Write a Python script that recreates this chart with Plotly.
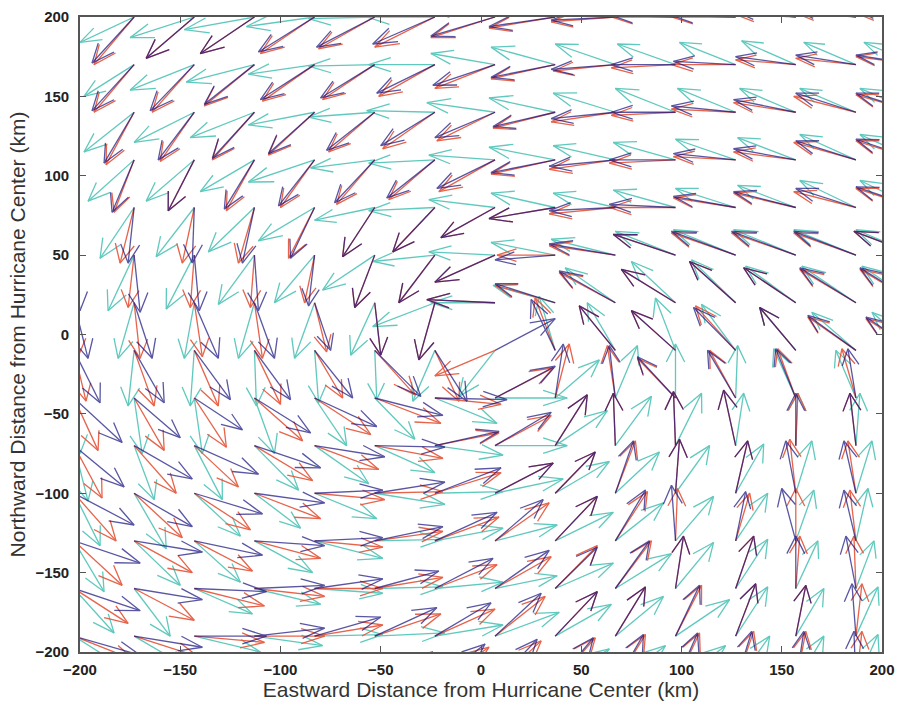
import numpy as np
import plotly.graph_objects as go
import plotly.figure_factory as ff

# Grid of vector origins (km from the hurricane centre)
X_KM = [-203, -173, -143, -113, -83, -53, -23, 7, 37, 67, 97, 127, 157, 187, 217]
Y_KM = [200, 170, 140, 110, 80, 50, 20, -10, -40, -70, -100, -130, -160, -190, -220]

# Field 1 (red): eastward / northward components, one row per Y_KM value
RED_U = [
    [-20, -20, -24, -27, -27, -28, -30, -32, -33, -32, -32, -32, -31, -31, -31],
    [-20, -20, -21, -25, -26, -26, -28, -30, -32, -31, -32, -32, -30, -30, -30],
    [-14, -14, -17, -21, -23, -23, -26, -29, -31, -32, -32, -32, -31, -31, -30],
    [-10, -10, -13, -14, -17, -19, -23, -28, -32, -33, -33, -31, -31, -31, -30],
    [-5, -7, -6, -8, -13, -16, -21, -27, -33, -33, -33, -31, -31, -31, -30],
    [-3, -3, -2, -2, -5, -10, -18, -30, -29, -33, -31, -32, -32, -31, -31],
    [2, 3, 4, 4, 6, 3, -8, -34, -30, -28, -27, -23, -26, -28, -28],
    [6, 10, 12, 13, 14, 20, 12, -30, -10, -18, -22, -20, -18, -24, -25],
    [12, 15, 16, 24, 28, 33, 33, 29, 7, -4, -19, -13, -9, -7, -8],
    [14, 21, 22, 29, 32, 34, 32, 28, 16, -1, -1, -6, 1, -3, -3],
    [21, 24, 28, 33, 35, 34, 33, 29, 20, 10, 2, 6, -3, -4, -4],
    [24, 29, 29, 33, 34, 34, 32, 27, 21, 16, 1, 7, 0, -3, -3],
    [27, 30, 35, 35, 34, 34, 31, 28, 21, 18, 4, 9, 2, -1, -1],
    [30, 32, 35, 35, 34, 33, 30, 25, 21, 15, 13, 10, 5, 3, 2],
    [33, 34, 35, 35, 33, 31, 27, 23, 20, 15, 12, 9, 5, 3, 2],
]
RED_V = [
    [-30, -30, -26, -23, -23, -20, -19, -13, -7, -3, 0, 0, 2, 3, 3],
    [-30, -30, -30, -26, -23, -22, -20, -15, -9, -4, -2, 0, 3, 4, 5],
    [-33, -33, -31, -30, -27, -25, -23, -18, -10, -6, -2, 2, 6, 10, 11],
    [-33, -33, -32, -32, -30, -28, -25, -20, -9, -6, -2, 2, 5, 11, 12],
    [-35, -35, -35, -35, -32, -31, -28, -19, -7, -4, 0, 6, 9, 10, 12],
    [-33, -33, -33, -33, -30, -33, -30, -17, 0, 6, 13, 14, 14, 14, 15],
    [-34, -35, -34, -35, -31, -33, -36, 2, 11, 19, 21, 26, 22, 21, 21],
    [-32, -35, -35, -34, -30, -28, -32, -16, 33, 28, 25, 28, 27, 21, 20],
    [-33, -33, -31, -27, -23, -16, -4, 19, 34, 33, 25, 30, 31, 31, 30],
    [-33, -30, -26, -22, -15, -8, 8, 19, 32, 33, 34, 35, 33, 33, 33],
    [-30, -28, -23, -16, -4, 1, 13, 19, 26, 33, 34, 33, 34, 33, 33],
    [-28, -20, -19, -11, -4, 6, 15, 24, 28, 31, 33, 30, 33, 32, 32],
    [-22, -20, -11, -5, 0, 7, 15, 20, 27, 30, 33, 33, 33, 33, 33],
    [-15, -13, -4, 0, 7, 14, 17, 25, 28, 31, 32, 33, 32, 33, 33],
    [-10, -8, -2, 3, 10, 17, 23, 27, 29, 31, 32, 33, 33, 33, 33],
]

# Field 2 (blue)
BLUE_U = [
    [-21, -21, -24, -27, -28, -29, -31, -32, -33, -32, -32, -32, -31, -31, -31],
    [-21, -21, -22, -25, -27, -27, -29, -31, -32, -32, -32, -31, -30, -30, -30],
    [-15, -15, -18, -21, -23, -24, -27, -30, -31, -32, -32, -32, -31, -30, -30],
    [-11, -11, -13, -15, -18, -20, -24, -29, -32, -33, -33, -31, -31, -30, -30],
    [-3, -3, -1, -6, -12, -16, -21, -27, -33, -33, -33, -31, -31, -30, -30],
    [3, 3, 2.5, 2, -3, -10, -18, -30, -30, -33, -31, -32, -32, -31, -31],
    [7, 9, 12, 10, 8, 3, -8, -34, -30, -28, -27, -23, -26, -28, -28],
    [13, 15, 18, 18, 19, 23, 16, 30, -12, -18, -22, -21, -18, -24, -25],
    [24, 23, 24, 28, 31, 34, 36, 30, 4, -3, -19, -14, -10, -4, -6],
    [25, 29, 32, 33, 35, 35, 32, 28, 16, -1, -1, -6, 0, -3, -3],
    [30, 29, 34, 35, 34, 35, 33, 29, 20, 9, 2, 6, -5, -6, -6],
    [33, 34, 34, 35, 34, 34, 31, 24, 21, 15, -2, 5, -7, -6, -6],
    [33, 34, 36, 35, 34, 32, 29, 27, 21, 17, 4, 9, 0, -5, -5],
    [33, 34, 36, 35, 33, 31, 28, 23, 21, 15, 12, 10, 5, -2, -2],
    [35, 36, 36, 35, 32, 29, 25, 21, 19, 14, 11, 8, 4, -1, -2],
]
BLUE_V = [
    [-29, -29, -26, -23, -22, -19, -17, -12, -6, -2, 1, 1, 4, 5, 5],
    [-29, -29, -29, -25, -22, -21, -18, -13, -8, -3, 0, 2, 5, 6, 6],
    [-32, -32, -30, -29, -26, -24, -21, -16, -9, -4, 0, 4, 8, 12, 12],
    [-33, -33, -32, -31, -29, -27, -24, -18, -8, -4, 0, 4, 7, 12, 13],
    [-35, -35, -35, -35, -32, -31, -28, -19, -7, -2, 2, 7, 10, 12, 13],
    [-35, -36, -35, -35, -32, -33, -30, -17, -3, 7, 13, 15, 15, 15, 15],
    [-35, -35, -35, -35, -30, -33, -36, 2, 12, 20, 21, 26, 22, 22, 22],
    [-33, -33, -31, -31, -30, -29, -32, 20, 32, 28, 25, 27, 27, 22, 21],
    [-28, -25, -20, -22, -18, -11, -1, 20, 34, 33, 26, 30, 31, 31, 31],
    [-26, -21, -18, -14, -7, -1, 9, 21, 32, 33, 34, 35, 33, 33, 33],
    [-20, -21, -13, -6, 2, 7, 16, 19, 26, 33, 34, 33, 33, 33, 33],
    [-14, -7, -9, -3, 2, 9, 18, 26, 28, 32, 35, 31, 33, 32, 32],
    [-14, -7, -2, 2, 6, 11, 19, 24, 26, 30, 33, 33, 33, 33, 33],
    [-12, -7, 0, 5, 12, 18, 21, 27, 28, 31, 32, 33, 32, 33, 33],
    [-6, -3, 3, 8, 15, 20, 25, 28, 29, 31, 32, 33, 33, 33, 33],
]

# Field 3 (cyan)
CYAN_U = [
    [-27, -27, -32, -35, -34, -33, -34, -33, -32, -30, -29, -28, -27, -26, -26],
    [-26, -25, -32, -34, -33, -33, -33, -32, -32, -30, -29, -28, -27, -26, -26],
    [-25, -25, -30, -32, -33, -33, -34, -34, -33, -31, -30, -29, -28, -28, -28],
    [-23, -23, -24, -27, -33, -32, -33, -33, -33, -31, -31, -30, -29, -28, -28],
    [-14, -17, -19, -23, -28, -30, -33, -33, -32, -31, -31, -30, -29, -28, -28],
    [-13, -13, -14, -18, -20, -26, -31, -33, -32, -32, -30, -31, -31, -31, -30],
    [-9, -8, -5, -8, -10, -12, -31, -32, -31, -25, -22, -22, -25, -27, -27],
    [-3, -3, -2, 1, 2, 1, -11, -18, -8, -14, -10, -17, -18, -22, -22],
    [3, 4, 4, 10, 16, 20, 31, 36, 22, 11, 0, 1, -11, -10, -10],
    [7, 10, 14, 22, 27, 30, 34, 36, 26, 18, 13, 4, 1, 2, 3],
    [13, 16, 23, 23, 31, 35, 34, 34, 27, 22, 17, 14, 8, 8, 8],
    [15, 23, 23, 29, 34, 34, 34, 31, 29, 24, 19, 16, 9, 6, 6],
    [20, 18, 29, 33, 34, 34, 34, 31, 29, 28, 19, 16, 11, 9, 9],
    [25, 27, 33, 34, 34, 35, 34, 32, 28, 24, 27, 16, 14, 11, 11],
    [30, 31, 33, 34, 35, 35, 33, 31, 27, 25, 25, 17, 14, 11, 10],
]
CYAN_V = [
    [-16, -16, -13, -8, -6, -1, 0, 6, 10, 12, 13, 14, 15, 15, 15],
    [-18, -20, -16, -11, -6, -1, 0, 7, 11, 13, 13, 14, 15, 14, 14],
    [-24, -25, -19, -16, -8, -3, 1, 6, 9, 12, 15, 15, 15, 15, 15],
    [-26, -26, -26, -20, -14, -5, -2, 3, 8, 9, 11, 13, 14, 16, 16],
    [-32, -32, -31, -28, -21, -8, -2, 5, 9, 9, 11, 12, 14, 17, 17],
    [-33, -35, -34, -31, -30, -22, -4, 2, 8, 10, 15, 16, 16, 16, 16],
    [-35, -35, -35, -35, -35, -33, -15, 0, 11, 22, 26, 27, 23, 23, 23],
    [-35, -35, -35, -35, -33, -31, -32, -29, 34, 30, 33, 29, 27, 24, 24],
    [-35, -35, -35, -35, -30, -26, -16, 0, 24, 33, 34, 33, 31, 30, 30],
    [-35, -34, -34, -28, -24, -17, -6, 0, 22, 31, 33, 33, 33, 33, 33],
    [-33, -35, -27, -22, -16, -7, 1, 9, 20, 26, 30, 31, 33, 33, 33],
    [-32, -28, -26, -20, -11, 1, 8, 10, 18, 24, 28, 30, 32, 33, 33],
    [-28, -30, -16, -10, -3, 1, 4, 8, 16, 22, 29, 31, 30, 30, 30],
    [-20, -20, -10, -6, 1, 2, 7, 15, 20, 25, 23, 31, 30, 31, 31],
    [-14, -14, -8, -2, 3, 6, 10, 17, 22, 24, 24, 30, 30, 31, 31],
]

TICKS = [-200, -150, -100, -50, 0, 50, 100, 150, 200]

# drawing order: cyan underneath, then red, blue translucent on top
FIELDS = [
    ("cyan", CYAN_U, CYAN_V, "#4fc4b7", 0.9),
    ("red", RED_U, RED_V, "#e5573c", 0.92),
    ("blue", BLUE_U, BLUE_V, "#140f7d", 0.7),
]

gx, gy = np.meshgrid(np.array(X_KM, float), np.array(Y_KM, float))

fig = go.Figure()
for name, U, V, color, alpha in FIELDS:
    q = ff.create_quiver(
        gx.ravel(), gy.ravel(),
        np.array(U, float).ravel(), np.array(V, float).ravel(),
        scale=1.0, arrow_scale=0.36, angle=np.radians(22),
        line=dict(color=color, width=1.3),
    )
    tr = q.data[0]
    tr.update(name=name, showlegend=False, hoverinfo="skip", opacity=alpha)
    fig.add_trace(tr)

FONT = "Liberation Sans, Arial, sans-serif"

axis_common = dict(
    range=[-200, 200],
    tickvals=TICKS,
    ticks="inside",
    ticklen=6,
    tickwidth=1.2,
    tickcolor="#555",
    showline=True,
    linecolor="#555",
    linewidth=1.6,
    mirror="ticks",
    showgrid=False,
    zeroline=False,
    automargin=False,
    tickfont=dict(family=FONT, size=15, color="#222", weight="bold"),
)

fig.update_xaxes(
    **axis_common,
    ticklabelstandoff=3,
    title=dict(text="Eastward Distance from Hurricane Center (km)",
               font=dict(family=FONT, size=21, color="#333"),
               standoff=4),
)
fig.update_yaxes(
    **axis_common,
    ticklabelstandoff=6,
    title=dict(text="Northward Distance from Hurricane Center (km)",
               font=dict(family=FONT, size=21, color="#333"),
               standoff=4),
)

fig.update_layout(
    width=897,
    height=703,
    margin=dict(l=80, r=15, t=17, b=51),
    paper_bgcolor="white",
    plot_bgcolor="white",
    showlegend=False,
)

fig.write_html("out.html")
